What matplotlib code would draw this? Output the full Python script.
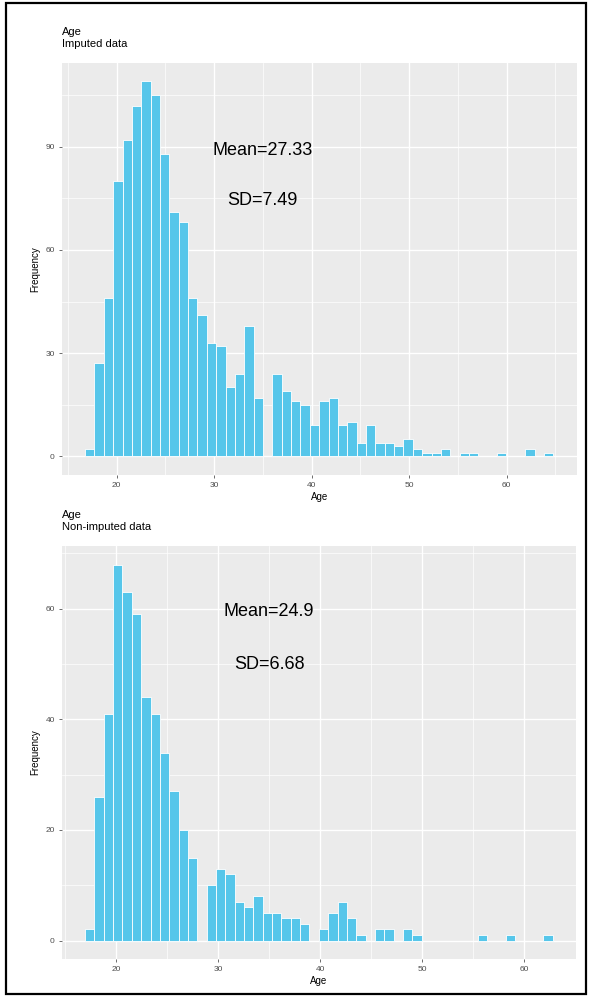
import numpy as np
import matplotlib
matplotlib.use("Agg")
import matplotlib.pyplot as plt
from matplotlib.patches import Rectangle

plt.rcParams['font.family'] = ['Liberation Sans', 'DejaVu Sans']

# ---- data (50 bins each) ----
imp_counts = [2, 27, 46, 80, 92, 102, 109, 105, 88, 71, 68, 46, 41, 33, 32, 20, 24, 38, 17, 0,
              24, 19, 16, 15, 9, 16, 17, 9, 10, 4, 9, 4, 4, 3, 5, 2, 1, 1, 2, 0,
              1, 1, 0, 0, 1, 0, 0, 2, 0, 1]
imp_first_center = 17.25
imp_last_center = 64.3
imp_mean = "Mean=27.33"
imp_sd = "SD=7.49"
imp_yticks = [0, 30, 60, 90]

non_counts = [2, 26, 41, 68, 63, 59, 44, 41, 34, 27, 20, 15, 0, 10, 13, 12, 7, 6, 8, 5,
              5, 4, 4, 3, 0, 2, 5, 7, 4, 1, 0, 2, 2, 0, 2, 1, 0, 0, 0, 0,
              0, 0, 1, 0, 0, 1, 0, 0, 0, 1]
non_first_center = 17.44
non_last_center = 62.3
non_mean = "Mean=24.9"
non_sd = "SD=6.68"
non_yticks = [0, 20, 40, 60]

xticks = [20, 30, 40, 50, 60]
titles = ["Age", "Age"]
subtitles = ["Imputed data", "Non-imputed data"]

BAR = "#56C6EA"
PANEL = "#EBEBEB"

W, H = 592, 997
fig = plt.figure(figsize=(W / 100, H / 100), dpi=100)
fig.patch.set_facecolor("white")


def px_rect(left, top, right, bottom):
    return [left / W, 1 - bottom / H, (right - left) / W, (bottom - top) / H]


def draw(ax, counts, c0, c1, yticks, mean_txt, sd_txt, mean_y, sd_y, title, subtitle):
    counts = np.asarray(counts)
    n = len(counts)
    centers = np.linspace(c0, c1, n)
    w = (c1 - c0) / (n - 1)
    ax.set_facecolor(PANEL)
    ax.bar(centers, counts, width=w, color=BAR, edgecolor="white", linewidth=0.6, zorder=3)
    lo, hi = c0 - w / 2, c1 + w / 2
    pad = 0.05 * (hi - lo)
    ax.set_xlim(lo - pad, hi + pad)
    ymax = counts.max()
    ax.set_ylim(-0.05 * ymax, ymax * 1.05)
    ax.set_xticks(xticks)
    ax.set_yticks(yticks)
    step = yticks[1] - yticks[0]
    ax.set_xticks([x + 5 for x in [10] + xticks], minor=True)
    ax.set_yticks([y + step / 2 for y in yticks], minor=True)
    ax.grid(True, which="major", color="white", linewidth=1.0, zorder=0)
    ax.grid(True, which="minor", color="white", linewidth=0.5, zorder=0)
    ax.set_axisbelow(True)
    for s in ax.spines.values():
        s.set_visible(False)
    ax.tick_params(which="major", length=2.5, width=0.5, color="#333333",
                   labelsize=6, labelcolor="#4D4D4D", pad=2.5)
    ax.tick_params(which="minor", length=0)
    ax.set_xlabel("Age", fontsize=7, color="black", labelpad=2)
    ax.set_ylabel("Frequency", fontsize=7, color="black", labelpad=4)
    ax.text(35, mean_y, mean_txt, ha="center", va="center", fontsize=13, color="black", zorder=5)
    ax.text(35, sd_y, sd_txt, ha="center", va="center", fontsize=13, color="black", zorder=5)
    ax.text(0, 1.062, title, transform=ax.transAxes, ha="left", va="bottom", fontsize=8)
    ax.text(0, 1.033, subtitle, transform=ax.transAxes, ha="left", va="bottom", fontsize=8)


ax1 = fig.add_axes(px_rect(61.7, 62.7, 576.7, 475))
draw(ax1, imp_counts, imp_first_center, imp_last_center, imp_yticks,
     imp_mean, imp_sd, 89, 74.5, titles[0], subtitles[0])

ax2 = fig.add_axes(px_rect(61.7, 545.7, 576.0, 959.3))
draw(ax2, non_counts, non_first_center, non_last_center, non_yticks,
     non_mean, non_sd, 59.5, 50, titles[1], subtitles[1])

fig.patches.append(Rectangle((6 / W, 3 / H), 580 / W, 991 / H, transform=fig.transFigure,
                             fill=False, edgecolor="black", linewidth=1.6))

fig.savefig("out.png", dpi=100)
